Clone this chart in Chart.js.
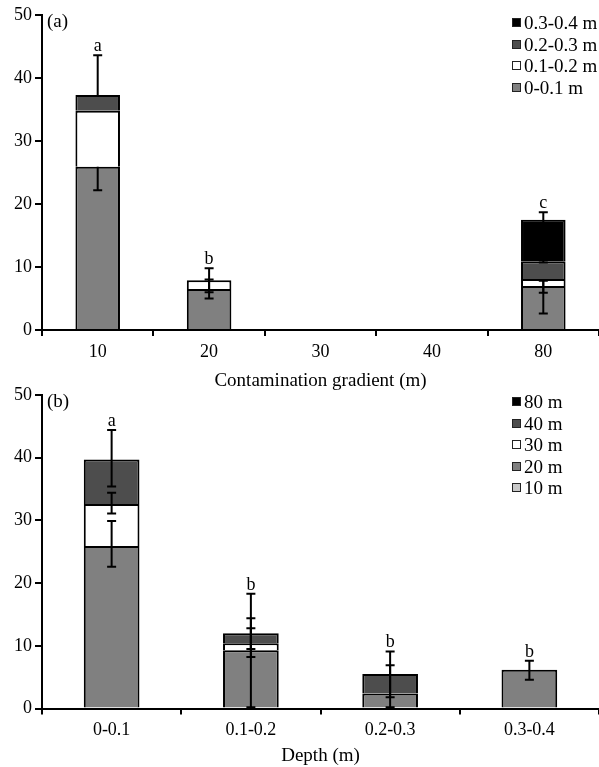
<!DOCTYPE html>
<html>
<head>
<meta charset="utf-8">
<script src="https://cdn.jsdelivr.net/npm/chart.js@4.4.1/dist/chart.umd.min.js"></script>
<style>
  body { margin: 0; background: #fff; width: 599px; height: 767px; position: relative; overflow: hidden; }
  .panel { position: absolute; left: 0; width: 599px; }
  #panelA { top: 0; height: 392px; }
  #panelB { top: 380px; height: 387px; }
  .legend { position: absolute; left: 512px; font-family: "Liberation Serif", "Times New Roman", serif; font-size: 19px; line-height: 21.5px; color: #000; }
  .legend div { display: flex; align-items: center; white-space: nowrap; }
  .legend .box { width: 9px; height: 9px; box-sizing: border-box; border: 1.5px solid #222; margin-right: 3px; }
  #legendA { top: 12px; }
  #legendB { top: 391px; }
</style>
</head>
<body>
<div class="panel" id="panelA"><canvas id="chartA" width="599" height="392"></canvas></div>
<div class="panel" id="panelB"><canvas id="chartB" width="599" height="387"></canvas></div>
<div class="legend" id="legendA"></div>
<div class="legend" id="legendB"></div>
<script>
const FONT = "'Liberation Serif', 'Times New Roman', serif";

// (a) contamination gradient, stacked by soil depth
const gradientLabels = ["10", "20", "30", "40", "80"];
const depth0to01 = [25.9, 6.5, 0, 0, 7.0];
const depth01to02 = [8.9, 1.4, 0, 0, 1.1];
const depth02to03 = [2.5, 0, 0, 0, 2.8];
const depth03to04 = [0, 0, 0, 0, 6.6];
const errMinusA = [
  [3.7, 1.5, 0, 0, 4.4],
  [0, 1.9, 0, 0, 2.2],
  [0, 0, 0, 0, 0],
  [0, 0, 0, 0, 6.8],
];
const errPlusA = [
  [0, 1.5, 0, 0, 0.8],
  [0, 1.9, 0, 0, 0],
  [6.3, 0, 0, 0, 0],
  [0, 0, 0, 0, 1.2],
];
const lettersA = ["a", "b", "", "", "c"];

// (b) depth, stacked by gradient distance
const depthLabels = ["0-0.1", "0.1-0.2", "0.2-0.3", "0.3-0.4"];
const dist10 = [0, 0, 0, 0];
const dist20 = [25.9, 9.3, 2.4, 6.2];
const dist30 = [6.7, 1.1, 0, 0];
const dist40 = [7.1, 1.6, 3.1, 0];
const dist80 = [0, 0, 0, 0];
const errMinusB = [
  [0, 0, 0, 0],
  [3.3, 9.1, 2.2, 1.6],
  [1.5, 2.2, 0, 0],
  [4.3, 2.5, 3.7, 0],
  [0, 0, 0, 0],
];
const errPlusB = [
  [0, 0, 0, 0],
  [4.0, 9.0, 4.5, 1.4],
  [1.8, 2.4, 0, 0],
  [4.7, 2.4, 3.6, 0],
  [0, 0, 0, 0],
];
const lettersB = ["a", "b", "b", "b"];

const GRAY = "#808080";
const WHITE = "#ffffff";
const DARK = "#4d4d4d";
const BLACK = "#000000";
const LIGHT = "#c8c8c8";

function bar(label, data, color) {
  return {
    label,
    data,
    backgroundColor: color,
    borderColor: "#000",
    borderWidth: 2,
    borderSkipped: "start",
    barPercentage: 0.4,
    categoryPercentage: 1,
  };
}

function errorBarPlugin(minus, plus, letters, panelText) {
  return {
    id: "errorBars",
    afterDatasetsDraw(chart) {
      const ctx = chart.ctx;
      const y = chart.scales.y;
      const sets = chart.data.datasets;
      const tops = [];
      ctx.save();
      ctx.strokeStyle = "#000";
      ctx.lineWidth = 2;
      sets.forEach((ds, i) => {
        const meta = chart.getDatasetMeta(i);
        ds.data.forEach((v, j) => {
          let cum = 0;
          for (let k = 0; k <= i; k++) cum += sets[k].data[j];
          tops[j] = Math.max(tops[j] || 0, cum);
          const lo = cum - minus[i][j];
          const hi = cum + plus[i][j];
          if (lo === hi) return;
          const x = meta.data[j].x;
          const pLo = y.getPixelForValue(lo);
          const pHi = y.getPixelForValue(hi);
          ctx.beginPath();
          ctx.moveTo(x, pLo);
          ctx.lineTo(x, pHi);
          if (minus[i][j] > 0) {
            ctx.moveTo(x - 4.5, pLo);
            ctx.lineTo(x + 4.5, pLo);
          }
          if (plus[i][j] > 0) {
            ctx.moveTo(x - 4.5, pHi);
            ctx.lineTo(x + 4.5, pHi);
          }
          ctx.stroke();
          tops[j] = Math.max(tops[j], hi);
        });
      });

      ctx.fillStyle = "#000";
      ctx.font = "18px " + FONT;
      ctx.textAlign = "center";
      ctx.textBaseline = "alphabetic";
      const meta0 = chart.getDatasetMeta(0);
      letters.forEach((t, j) => {
        if (!t) return;
        ctx.fillText(t, meta0.data[j].x, y.getPixelForValue(tops[j]) - 4);
      });

      ctx.font = "19px " + FONT;
      ctx.textAlign = "left";
      ctx.textBaseline = "middle";
      ctx.fillText(panelText, chart.chartArea.left + 5, chart.chartArea.top + 7);
      ctx.restore();
    },
  };
}

function makeOptions(xTitle, xHeight) {
  return {
    responsive: false,
    animation: false,
    devicePixelRatio: 1,
    layout: { padding: { top: 15, left: 0, right: 0, bottom: 0 } },
    plugins: { legend: { display: false }, tooltip: { enabled: false } },
    scales: {
      x: {
        stacked: true,
        offset: true,
        grid: {
          offset: true,
          drawOnChartArea: false,
          drawTicks: true,
          tickLength: 6,
          color: "#000",
          lineWidth: 2,
        },
        border: { display: true, color: "#000", width: 2 },
        ticks: {
          color: "#000",
          font: { family: FONT, size: 18 },
          padding: 5,
          maxRotation: 0,
          autoSkip: false,
        },
        title: {
          display: true,
          text: xTitle,
          color: "#000",
          font: { family: FONT, size: 19 },
          padding: { top: 0, bottom: 0 },
        },
        afterFit: (s) => {
          s.height = xHeight;
        },
      },
      y: {
        stacked: true,
        min: 0,
        max: 50,
        ticks: {
          stepSize: 10,
          color: "#000",
          font: { family: FONT, size: 18 },
          padding: 3,
        },
        grid: {
          drawOnChartArea: false,
          tickLength: 7,
          color: "#000",
          lineWidth: 2,
        },
        border: { display: true, color: "#000", width: 2 },
        afterFit: (s) => {
          s.width = 42;
        },
      },
    },
  };
}

function buildLegend(el, datasets) {
  el.innerHTML = datasets
    .slice()
    .reverse()
    .map(
      (ds) =>
        `<div><span class="box" style="background:${ds.backgroundColor}"></span>${ds.label}</div>`
    )
    .join("");
}

const dataA = [
  bar("0-0.1 m", depth0to01, GRAY),
  bar("0.1-0.2 m", depth01to02, WHITE),
  bar("0.2-0.3 m", depth02to03, DARK),
  bar("0.3-0.4 m", depth03to04, BLACK),
];

const dataB = [
  bar("10 m", dist10, LIGHT),
  bar("20 m", dist20, GRAY),
  bar("30 m", dist30, WHITE),
  bar("40 m", dist40, DARK),
  bar("80 m", dist80, BLACK),
];

new Chart(document.getElementById("chartA"), {
  type: "bar",
  data: { labels: gradientLabels, datasets: dataA },
  options: makeOptions("Contamination gradient (m)", 62),
  plugins: [errorBarPlugin(errMinusA, errPlusA, lettersA, "(a)")],
});

new Chart(document.getElementById("chartB"), {
  type: "bar",
  data: { labels: depthLabels, datasets: dataB },
  options: makeOptions("Depth (m)", 58.5),
  plugins: [errorBarPlugin(errMinusB, errPlusB, lettersB, "(b)")],
});

buildLegend(document.getElementById("legendA"), dataA);
buildLegend(document.getElementById("legendB"), dataB);
</script>
</body>
</html>
